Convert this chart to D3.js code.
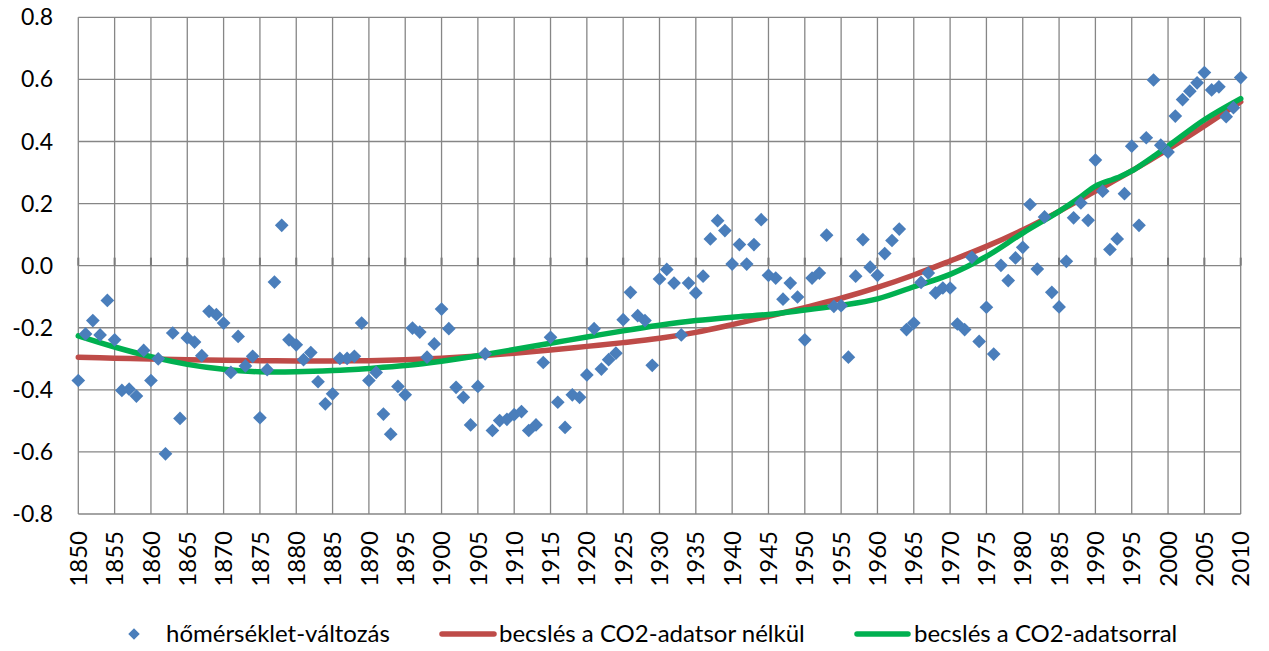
<!DOCTYPE html>
<html>
<head>
<meta charset="utf-8">
<script src="https://cdn.jsdelivr.net/npm/d3@7"></script>
<style>
  body { margin: 0; background: #fff; }
  text { font-family: Lato, "Open Sans", sans-serif; fill: #000; }
</style>
</head>
<body>
<div id="chart"></div>
<script>
// évek és mért hőmérséklet-változás (1850-2010)
var years = d3.range(1850, 2011);
var temps = [
  -0.37,-0.22,-0.177,-0.223,-0.112,-0.239,-0.402,-0.398,-0.42,-0.273,
  -0.37,-0.30,-0.606,-0.217,-0.492,-0.233,-0.246,-0.29,-0.147,-0.158,
  -0.185,-0.344,-0.228,-0.323,-0.292,-0.49,-0.335,-0.053,0.13,-0.239,
  -0.255,-0.303,-0.28,-0.374,-0.445,-0.413,-0.299,-0.299,-0.292,-0.185,
  -0.37,-0.344,-0.478,-0.543,-0.389,-0.416,-0.201,-0.214,-0.295,-0.252,
  -0.14,-0.203,-0.392,-0.424,-0.513,-0.389,-0.284,-0.531,-0.499,-0.495,
  -0.48,-0.47,-0.531,-0.513,-0.312,-0.231,-0.44,-0.521,-0.416,-0.424,
  -0.352,-0.203,-0.333,-0.303,-0.282,-0.174,-0.086,-0.161,-0.177,-0.321,
  -0.043,-0.012,-0.056,-0.223,-0.056,-0.088,-0.034,0.086,0.145,0.113,
  0.005,0.068,0.005,0.068,0.148,-0.031,-0.04,-0.108,-0.056,-0.101,
  -0.239,-0.04,-0.024,0.098,-0.131,-0.129,-0.295,-0.034,0.084,-0.005,
  -0.031,0.039,0.081,0.118,-0.206,-0.185,-0.054,-0.024,-0.088,-0.072,
  -0.072,-0.188,-0.206,0.027,-0.244,-0.134,-0.285,0.001,-0.048,0.025,
  0.059,0.197,-0.011,0.157,-0.086,-0.133,0.014,0.154,0.202,0.146,
  0.34,0.24,0.052,0.086,0.232,0.385,0.13,0.412,0.598,0.388,
  0.366,0.482,0.535,0.562,0.589,0.622,0.566,0.576,0.48,0.509,
  0.606
];

// becslés a CO2-adatsor nélkül
var redYears = [1850,1855,1860,1865,1870,1875,1880,1885,1890,1895,1900,1905,1910,1915,1920,1925,1930,1935,1940,1945,1950,1955,1960,1965,1970,1975,1980,1985,1990,1995,2000,2005,2010];
var redVals = [-0.295,-0.298,-0.301,-0.303,-0.305,-0.306,-0.307,-0.307,-0.306,-0.303,-0.298,-0.291,-0.282,-0.272,-0.26,-0.248,-0.234,-0.215,-0.19,-0.163,-0.135,-0.105,-0.07,-0.03,0.015,0.062,0.115,0.175,0.24,0.305,0.375,0.45,0.528];

// becslés a CO2-adatsorral
var greenYears = [1850,1855,1860,1865,1870,1875,1880,1885,1890,1895,1900,1905,1910,1915,1920,1925,1930,1935,1940,1945,1950,1955,1960,1965,1970,1975,1980,1985,1988,1990,1993,1995,2000,2005,2010];
var greenVals = [-0.226,-0.262,-0.293,-0.318,-0.334,-0.342,-0.342,-0.338,-0.331,-0.322,-0.308,-0.29,-0.27,-0.25,-0.23,-0.21,-0.192,-0.177,-0.166,-0.157,-0.143,-0.128,-0.107,-0.068,-0.028,0.03,0.105,0.175,0.222,0.256,0.283,0.305,0.385,0.47,0.538];

var yTicks = [-0.8,-0.6,-0.4,-0.2,0,0.2,0.4,0.6,0.8];
var xTicks = d3.range(1850, 2011, 5);
var legendNames = ["hőmérséklet-változás", "becslés a CO2-adatsor nélkül", "becslés a CO2-adatsorral"];

var W = 1269, H = 651;
var svg = d3.select("#chart").append("svg").attr("width", W).attr("height", H);

var x = d3.scaleLinear().domain([1850, 2010]).range([78.3, 1240.7]);
var y = d3.scaleLinear().domain([-0.8, 0.8]).range([514, 17.3]);

var grid = "#868686";

// rácsvonalak
svg.append("g").selectAll("line.h").data(yTicks).enter().append("line")
    .attr("x1", x(1850)).attr("x2", x(2010))
    .attr("y1", function(d){return y(d)}).attr("y2", function(d){return y(d)})
    .attr("stroke", grid).attr("stroke-width", 1.3);
svg.append("g").selectAll("line.v").data(xTicks).enter().append("line")
    .attr("x1", function(d){return x(d)}).attr("x2", function(d){return x(d)})
    .attr("y1", y(0.8)).attr("y2", y(-0.8))
    .attr("stroke", grid).attr("stroke-width", 1.3);
// kis osztásjelek a 0-s tengelyen
svg.append("g").selectAll("line.t").data(xTicks).enter().append("line")
    .attr("x1", function(d){return x(d)}).attr("x2", function(d){return x(d)})
    .attr("y1", y(0) - 8).attr("y2", y(0))
    .attr("stroke", "#7a7a7a").attr("stroke-width", 2);

// y feliratok
svg.append("g").selectAll("text").data(yTicks).enter().append("text")
    .attr("x", 53).attr("y", function(d){return y(d)})
    .attr("dy", "0.35em").attr("text-anchor", "end")
    .style("font-size", "23px")
    .text(function(d){return d.toFixed(1)});

// x feliratok
svg.append("g").selectAll("text").data(xTicks).enter().append("text")
    .attr("transform", function(d){return "translate(" + x(d) + ",531) rotate(-90)"})
    .attr("dy", "0.36em").attr("text-anchor", "end")
    .style("font-size", "24px")
    .text(function(d){return d});

var line = d3.line()
    .x(function(d){return x(d[0])})
    .y(function(d){return y(d[1])})
    .curve(d3.curveCatmullRom);

svg.append("path")
    .datum(d3.zip(redYears, redVals))
    .attr("fill", "none").attr("stroke", "#be4b48").attr("stroke-width", 5.5)
    .attr("stroke-linecap", "round")
    .attr("d", line);
svg.append("path")
    .datum(d3.zip(greenYears, greenVals))
    .attr("fill", "none").attr("stroke", "#00b050").attr("stroke-width", 5.5)
    .attr("stroke-linecap", "round")
    .attr("d", line);

var diamond = d3.symbol().type(d3.symbolDiamond2).size(120);
svg.append("g").selectAll("path").data(d3.zip(years, temps)).enter().append("path")
    .attr("transform", function(d){return "translate(" + x(d[0]) + "," + y(d[1]) + ")"})
    .attr("d", diamond)
    .attr("fill", "#4a7ebb");

// jelmagyarázat
var ly = 634;
var lg = svg.append("g");
lg.append("path").attr("transform", "translate(134," + ly + ")")
    .attr("d", d3.symbol().type(d3.symbolDiamond2).size(85)).attr("fill", "#4a7ebb");
lg.append("text").attr("x", 166).attr("y", ly).attr("dy", "0.35em")
    .style("font-size", "24px").text(legendNames[0]);
lg.append("line").attr("x1", 442).attr("x2", 494).attr("y1", ly).attr("y2", ly)
    .attr("stroke", "#be4b48").attr("stroke-width", 5.5).attr("stroke-linecap", "round");
lg.append("text").attr("x", 499).attr("y", ly).attr("dy", "0.35em")
    .style("font-size", "24px").text(legendNames[1]);
lg.append("line").attr("x1", 857).attr("x2", 908).attr("y1", ly).attr("y2", ly)
    .attr("stroke", "#00b050").attr("stroke-width", 5.5).attr("stroke-linecap", "round");
lg.append("text").attr("x", 914).attr("y", ly).attr("dy", "0.35em")
    .style("font-size", "24px").text(legendNames[2]);
</script>
</body>
</html>
